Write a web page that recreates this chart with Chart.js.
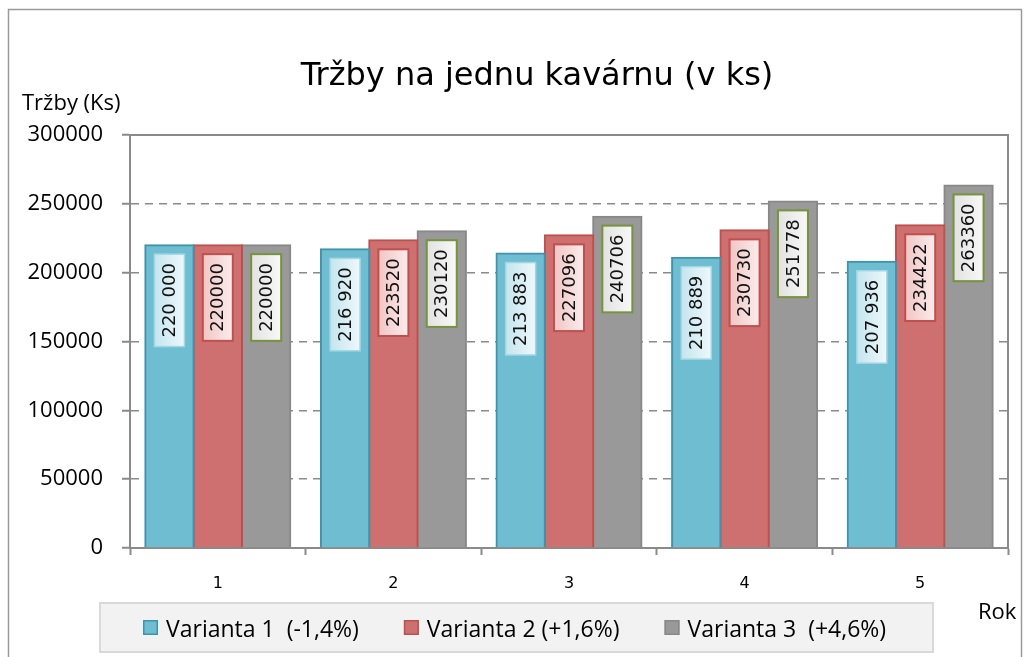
<!DOCTYPE html>
<html>
<head>
<meta charset="utf-8">
<script src="https://cdn.jsdelivr.net/npm/chart.js@4.4.1/dist/chart.umd.min.js"></script>
<style>
html, body { margin: 0; padding: 0; background: #ffffff; }
#wrap { width: 1029px; height: 657px; position: relative; }
canvas { display: block; }
</style>
</head>
<body>
<div id="wrap"><canvas id="c" width="1029" height="657"></canvas></div>
<script>
// ---- data ----
const categories = ['1', '2', '3', '4', '5'];
const series1 = [220000, 216920, 213883, 210889, 207936];
const series2 = [220000, 223520, 227096, 230730, 234422];
const series3 = [220000, 230120, 240706, 251778, 263360];
const seriesNames = ['Varianta 1  (-1,4%)', 'Varianta 2 (+1,6%)', 'Varianta 3  (+4,6%)'];
const yTickValues = [0, 50000, 100000, 150000, 200000, 250000, 300000];
const chartTitle = 'Tržby na jednu kavárnu (v ks)';
const yAxisTitle = 'Tržby (Ks)';
const xAxisTitle = 'Rok';

// ---- styles ----
const AXIS = '#8a8a8a';
const barFill = ['#6fbdd1', '#cd706f', '#999999'];
const barBorder = ['#3f93ad', '#c0504d', '#888888'];
const labelFill = [['#c4e5ee', '#eef8fb'], ['#f0c6c5', '#fbecec'], ['#e2e2e2', '#f8f8f8']];
const labelBorder = ['#a3d6e4', '#c0504d', '#77933c'];
const labelBorderW = [1.5, 2, 2];
const labelSpaced = [true, false, false];

function fmt(v, spaced) {
  const s = String(v);
  return spaced ? s.replace(/\B(?=(\d{3})+(?!\d))/g, ' ') : s;
}

const decor = {
  id: 'decor',
  beforeDraw(chart) {
    const ctx = chart.ctx;
    ctx.save();
    ctx.fillStyle = '#ffffff';
    ctx.fillRect(0, 0, chart.width, chart.height);
    ctx.strokeStyle = '#9a9a9a';
    ctx.lineWidth = 1.5;
    ctx.strokeRect(8.5, 9.5, 1013, 700);
    ctx.restore();
  },
  beforeDatasetsDraw(chart) {
    const { ctx, chartArea: a } = chart;
    ctx.save();
    ctx.strokeStyle = AXIS;
    ctx.lineWidth = 2;
    ctx.beginPath();
    ctx.moveTo(a.left, a.top);
    ctx.lineTo(a.right, a.top);
    ctx.lineTo(a.right, a.bottom);
    ctx.stroke();
    ctx.restore();
  },
  afterDatasetsDraw(chart) {
    const ctx = chart.ctx;
    ctx.save();
    ctx.font = '18px "DejaVu Sans"';
    chart.data.datasets.forEach((ds, i) => {
      const meta = chart.getDatasetMeta(i);
      meta.data.forEach((el, j) => {
        const p = el.getProps(['x', 'y'], true);
        const txt = fmt(ds.data[j], labelSpaced[i]);
        const tw = ctx.measureText(txt).width;
        const h = tw + 18;
        const w = 30;
        const top = p.y + 9;
        const left = p.x - w / 2;
        const g = ctx.createLinearGradient(left, 0, left + w, 0);
        g.addColorStop(0, labelFill[i][0]);
        g.addColorStop(1, labelFill[i][1]);
        ctx.fillStyle = g;
        ctx.fillRect(left, top, w, h);
        ctx.strokeStyle = labelBorder[i];
        ctx.lineWidth = labelBorderW[i];
        ctx.strokeRect(left, top, w, h);
        ctx.save();
        ctx.translate(p.x + 1, top + h / 2);
        ctx.rotate(-Math.PI / 2);
        ctx.fillStyle = '#111111';
        ctx.textAlign = 'center';
        ctx.textBaseline = 'middle';
        ctx.fillText(txt, 0, 0);
        ctx.restore();
      });
    });
    ctx.restore();
  },
  afterDraw(chart) {
    const ctx = chart.ctx;
    ctx.save();
    // title
    ctx.fillStyle = '#000000';
    ctx.font = '32px "DejaVu Sans"';
    ctx.textAlign = 'center';
    ctx.textBaseline = 'alphabetic';
    ctx.fillText(chartTitle, 537, 85);
    // axis titles
    ctx.font = '22px "Open Sans"';
    ctx.textAlign = 'left';
    ctx.fillText(yAxisTitle, 22, 110);
    ctx.fillText(xAxisTitle, 978, 619);
    // legend
    const boxL = 100, boxT = 603, boxW = 833, boxH = 49;
    ctx.fillStyle = '#f2f2f2';
    ctx.fillRect(boxL, boxT, boxW, boxH);
    ctx.strokeStyle = '#d9d9d9';
    ctx.lineWidth = 2;
    ctx.strokeRect(boxL, boxT, boxW, boxH);
    let x = boxL + 43;
    ctx.font = '23px "Open Sans"';
    chart.data.datasets.forEach((ds, i) => {
      ctx.fillStyle = ds.backgroundColor;
      ctx.fillRect(x, 620, 15, 15);
      ctx.strokeStyle = ds.borderColor;
      ctx.lineWidth = 1.5;
      ctx.strokeRect(x + 0.75, 620.75, 13.5, 13.5);
      ctx.fillStyle = '#000000';
      ctx.fillText(ds.label, x + 23, 637);
      x += 23 + ctx.measureText(ds.label).width + 45;
    });
    ctx.restore();
  }
};

const seriesData = [series1, series2, series3];
const chart = new Chart(document.getElementById('c'), {
  type: 'bar',
  data: {
    labels: categories,
    datasets: seriesData.map((d, i) => ({
      label: seriesNames[i],
      data: d,
      backgroundColor: barFill[i],
      borderColor: barBorder[i],
      borderWidth: 2,
      inflateAmount: 1,
      categoryPercentage: 0.826,
      barPercentage: 1.0
    }))
  },
  options: {
    responsive: false,
    animation: false,
    devicePixelRatio: 1,
    layout: { padding: { top: 135, left: 0, right: 21, bottom: 64 } },
    plugins: {
      legend: { display: false },
      title: { display: false },
      tooltip: { enabled: false }
    },
    scales: {
      x: {
        afterFit: (s) => { s.height = 45; },
        grid: {
          drawOnChartArea: false,
          drawTicks: true,
          tickLength: 7,
          tickColor: AXIS,
          tickWidth: 2,
          offset: true
        },
        border: { color: AXIS, width: 2 },
        ticks: {
          color: '#000000',
          font: { family: 'DejaVu Sans', size: 16 },
          padding: 19
        }
      },
      y: {
        min: 0,
        max: 300000,
        afterFit: (s) => { s.width = 130; },
        afterBuildTicks: (s) => { s.ticks = yTickValues.map(v => ({ value: v })); },
        grid: {
          color: AXIS,
          lineWidth: 1.5,
          drawTicks: true,
          tickLength: 8,
          tickColor: AXIS,
          tickWidth: 2
        },
        border: { color: AXIS, width: 2, dash: [8, 6] },
        ticks: {
          color: '#000000',
          font: { family: 'Open Sans', size: 22 },
          padding: 19,
          callback: (v) => String(v)
        }
      }
    }
  },
  plugins: [decor]
});
</script>
</body>
</html>
